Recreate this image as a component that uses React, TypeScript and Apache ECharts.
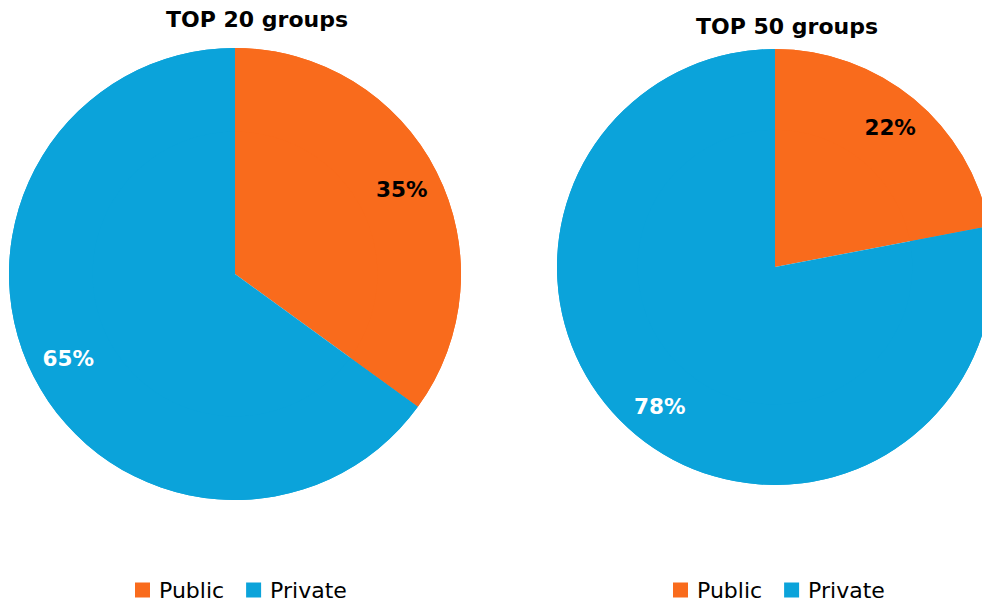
import React, { useEffect, useRef } from "react";
import * as echarts from "echarts";

const categories = ["Public", "Private"];
const top20Values = [35, 65];
const top50Values = [22, 78];
const chartTitles = ["TOP 20 groups", "TOP 50 groups"];
const sliceColors = ["#F96B1C", "#0BA3DA"];
const labelColors = ["#000000", "#FFFFFF"];

const FONT = "'DejaVu Sans', sans-serif";

function makeData(values: number[]) {
  return categories.map((name, i) => ({
    name,
    value: values[i],
    itemStyle: { color: sliceColors[i] },
    label: { color: labelColors[i] },
  }));
}

export default function App() {
  const ref = useRef<HTMLDivElement>(null);
  useEffect(() => {
    if (!ref.current) return;
    const chart = echarts.init(ref.current, undefined, { renderer: "svg" });
    const pies = [
      { center: [235, 274], r: 226, values: top20Values },
      { center: [775, 267], r: 218, values: top50Values },
    ];
    const series: any[] = [];
    pies.forEach((p) => {
      series.push({
        type: "pie",
        center: p.center,
        radius: [0, p.r],
        startAngle: 90,
        clockwise: true,
        data: makeData(p.values),
        label: { show: false },
        labelLine: { show: false },
        emphasis: { disabled: true },
        silent: true,
      });
    });
    pies.forEach((p) => {
      series.push({
        type: "pie",
        center: p.center,
        radius: [p.r * 0.63, p.r],
        startAngle: 90,
        clockwise: true,
        data: makeData(p.values),
        label: {
          show: true,
          position: "inside",
          formatter: "{c}%",
          fontFamily: FONT,
          fontWeight: "bold",
          fontSize: 21.5,
        },
        labelLine: { show: false },
        emphasis: { disabled: true },
        silent: true,
      });
    });
    const legendBase = {
      data: categories,
      top: 579,
      padding: 0,
      itemWidth: 15,
      itemHeight: 15,
      itemGap: 22,
      icon: "rect",
      selectedMode: false,
      textStyle: { fontFamily: FONT, fontSize: 22, color: "#000", padding: [0, 0, 0, 4] },
    };
    chart.setOption({
      animation: false,
      title: [
        {
          text: chartTitles[0],
          left: 257,
          top: 8,
          textAlign: "center",
          padding: 0,
          textStyle: { fontFamily: FONT, fontWeight: "bold", fontSize: 22, color: "#000" },
        },
        {
          text: chartTitles[1],
          left: 787,
          top: 15,
          textAlign: "center",
          padding: 0,
          textStyle: { fontFamily: FONT, fontWeight: "bold", fontSize: 22, color: "#000" },
        },
      ],
      legend: [
        { ...legendBase, left: 135 },
        { ...legendBase, left: 673 },
      ],
      series,
    });
    return () => chart.dispose();
  }, []);
  return (
    <div
      ref={ref}
      style={{ position: "absolute", left: 0, top: 0, width: 982, height: 604, background: "#fff" }}
    />
  );
}
